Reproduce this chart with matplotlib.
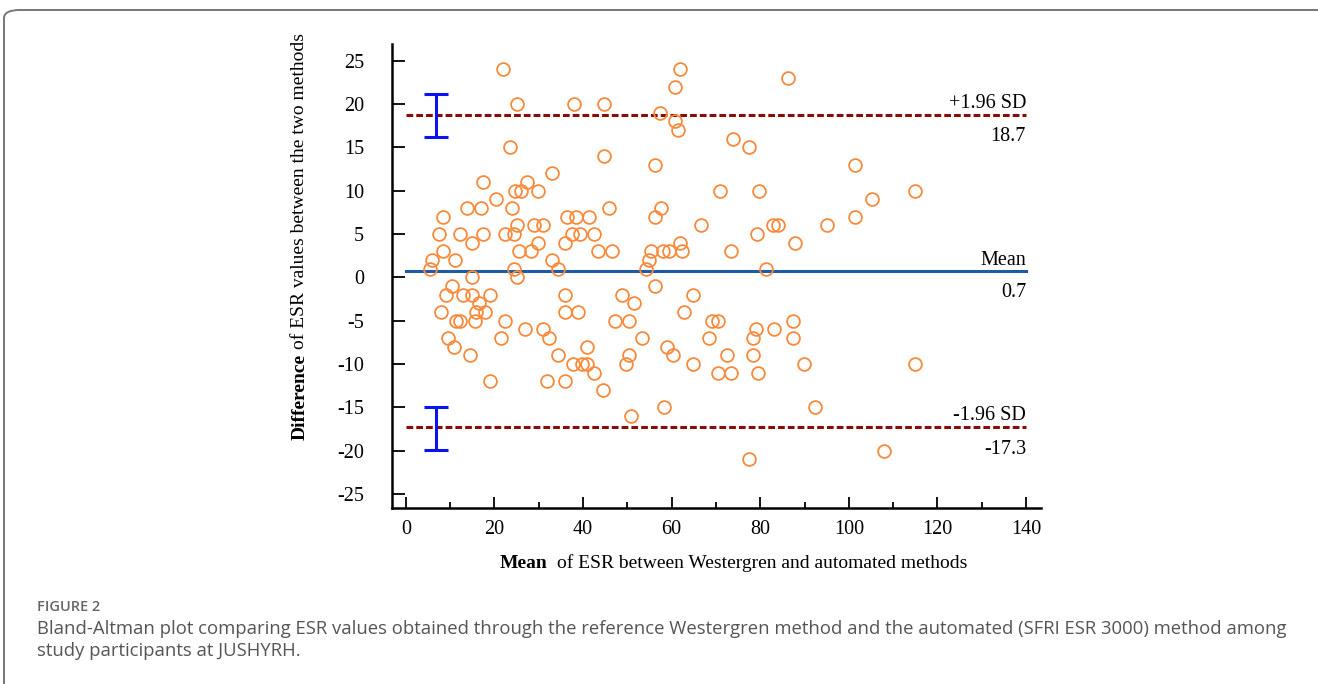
import matplotlib.pyplot as plt
from matplotlib.patches import FancyBboxPatch

plt.rcParams['axes.unicode_minus'] = False

# mean of the two methods (x) and their difference (y)
mean_esr = [21.9, 61.9, 86.3, 60.7, 25.0, 37.9, 44.8, 57.4, 60.8, 61.5, 73.9,
            23.4, 77.4, 44.8, 56.3, 101.4, 32.9, 17.4, 27.3,
            24.6, 25.9, 29.9, 70.9, 79.8, 114.9, 20.4, 105.3,
            13.8, 17.0, 23.9, 45.9, 57.7,
            8.4, 36.3, 38.4, 41.4, 56.3, 101.4,
            25.0, 28.9, 30.9, 66.6, 82.8, 83.9, 95.0,
            7.4, 12.3, 17.4, 22.4, 24.4, 37.4, 39.3, 42.5, 79.3,
            14.9, 29.9, 35.9, 61.9, 87.8,
            8.4, 25.5, 28.3, 43.4, 46.5, 55.4, 58.0, 59.3, 62.3, 73.5,
            5.9, 11.0, 32.9, 54.9,
            5.4, 24.4, 34.4, 54.3, 81.4,
            14.9, 25.0,
            10.5, 56.3,
            9.0, 12.9, 14.9, 18.9, 35.9, 48.9, 64.8,
            16.4, 51.4,
            7.9, 15.9, 17.9, 35.9, 38.9, 62.8,
            11.3, 12.3, 15.5, 22.4, 47.3, 50.4, 69.2, 70.4, 87.5,
            26.8, 30.9, 79.0, 83.0,
            9.4, 21.4, 32.4, 53.4, 68.4, 78.3, 87.5,
            10.9, 40.8, 58.9,
            14.4, 34.4, 50.4, 60.4, 72.5, 78.3,
            37.8, 39.8, 40.8, 49.8, 64.8, 89.9, 114.9,
            42.5, 70.4, 73.5, 79.4,
            18.9, 31.9, 35.9,
            44.4,
            58.3, 92.4,
            50.9,
            107.9,
            77.5]
diff_esr = [24, 24, 23, 22, 20, 20, 20, 19, 18, 17, 16,
            15, 15, 14, 13, 13, 12, 11, 11,
            10, 10, 10, 10, 10, 10, 9, 9,
            8, 8, 8, 8, 8,
            7, 7, 7, 7, 7, 7,
            6, 6, 6, 6, 6, 6, 6,
            5, 5, 5, 5, 5, 5, 5, 5, 5,
            4, 4, 4, 4, 4,
            3, 3, 3, 3, 3, 3, 3, 3, 3, 3,
            2, 2, 2, 2,
            1, 1, 1, 1, 1,
            0, 0,
            -1, -1,
            -2, -2, -2, -2, -2, -2, -2,
            -3, -3,
            -4, -4, -4, -4, -4, -4,
            -5, -5, -5, -5, -5, -5, -5, -5, -5,
            -6, -6, -6, -6,
            -7, -7, -7, -7, -7, -7, -7,
            -8, -8, -8,
            -9, -9, -9, -9, -9, -9,
            -10, -10, -10, -10, -10, -10, -10,
            -11, -11, -11, -11,
            -12, -12, -12,
            -13,
            -15, -15,
            -16,
            -20,
            -21]

mean_diff = 0.7
upper_loa = 18.7
lower_loa = -17.3
ci_upper = [16.2, 21.1]
ci_lower = [-19.9, -14.9]
ci_x = 6.9

serif = 'Liberation Serif'

fig = plt.figure(figsize=(13.18, 6.84), dpi=100)

# rounded frame around the figure (cut off at right and bottom)
frame = FancyBboxPatch((4 / 1318, -0.05), 1.2, 1.05 - 10 / 684,
                       boxstyle='round,pad=0,rounding_size=0.012',
                       transform=fig.transFigure, fill=False,
                       edgecolor='#777777', linewidth=1.4)
fig.patches.append(frame)

ax = fig.add_axes([391.7 / 1318, 1 - 508 / 684, 649.4 / 1318, 463.8 / 684])

ax.plot(mean_esr, diff_esr, 'o', markersize=9.2, markerfacecolor='none',
        markeredgecolor='#f98a3c', markeredgewidth=1.3, zorder=3)

ax.plot([0, 140], [mean_diff, mean_diff], color='#1f5aa6', linewidth=2.2)
ax.plot([0, 140], [upper_loa, upper_loa], color='#8b0a0a', linewidth=2.2,
        dashes=(2.2, 1.0))
ax.plot([0, 140], [lower_loa, lower_loa], color='#8b0a0a', linewidth=2.2,
        dashes=(2.2, 1.0))

for ci in [ci_upper, ci_lower]:
    mid = (ci[0] + ci[1]) / 2
    ax.errorbar([ci_x], [mid], yerr=[[mid - ci[0]], [ci[1] - mid]],
                color='#0a14f0', linewidth=2.2, capsize=8.3, capthick=2.2)

ax.text(140, 20.1, '+1.96 SD', ha='right', va='center', fontsize=14.5, family=serif)
ax.text(140, 16.2, '18.7', ha='right', va='center', fontsize=14.5, family=serif)
ax.text(140, 2.0, 'Mean', ha='right', va='center', fontsize=14.5, family=serif)
ax.text(140, -1.7, '0.7', ha='right', va='center', fontsize=14.5, family=serif)
ax.text(140, -15.9, '-1.96 SD', ha='right', va='center', fontsize=14.5, family=serif)
ax.text(140, -19.8, '-17.3', ha='right', va='center', fontsize=14.5, family=serif)

ax.set_xlim(-3.2, 143.4)
ax.set_ylim(-26.6, 26.9)
ax.set_xticks(range(0, 141, 20))
ax.set_xticks(range(10, 140, 20), minor=True)
ax.set_yticks(range(-25, 26, 5))

for side in ['top', 'right']:
    ax.spines[side].set_visible(False)
for side in ['left', 'bottom']:
    ax.spines[side].set_linewidth(1.8)

ax.tick_params(axis='x', which='major', direction='in', length=8, width=1.3,
               pad=9, labelsize=14.5)
ax.tick_params(axis='x', which='minor', direction='in', length=4.5, width=1.3)
ax.tick_params(axis='y', direction='in', length=9.5, width=1.3, pad=20,
               labelsize=14.5)
for lab in ax.get_xticklabels() + ax.get_yticklabels():
    lab.set_family(serif)

# axis titles with bold first word
fig.text(500 / 1318, 1 - 563 / 684, 'Mean', fontsize=14, family=serif,
         fontweight='bold', ha='left', va='center')
fig.text(557 / 1318, 1 - 563 / 684, 'of ESR between Westergren and automated methods',
         fontsize=14, family=serif, ha='left', va='center')
fig.text(300 / 1318, 1 - 440 / 684, 'Difference', fontsize=14, family=serif,
         fontweight='bold', rotation=90, ha='center', va='bottom')
fig.text(300 / 1318, 1 - 349 / 684, 'of ESR values between the two methods',
         fontsize=14, family=serif, rotation=90, ha='center', va='bottom')

# caption
fig.text(37 / 1318, 1 - 607 / 684, 'FIGURE 2', fontsize=10.5, family='Open Sans',
         fontweight='semibold', color='#666666', ha='left', va='center')
fig.text(37 / 1318, 1 - 629 / 684,
         'Bland-Altman plot comparing ESR values obtained through the reference Westergren '
         'method and the automated (SFRI ESR 3000) method among',
         fontsize=13.3, family='Open Sans', color='#555555', ha='left', va='center')
fig.text(37 / 1318, 1 - 651 / 684, 'study participants at JUSHYRH.',
         fontsize=13.3, family='Open Sans', color='#555555', ha='left', va='center')

fig.savefig('out.png', dpi=100)
